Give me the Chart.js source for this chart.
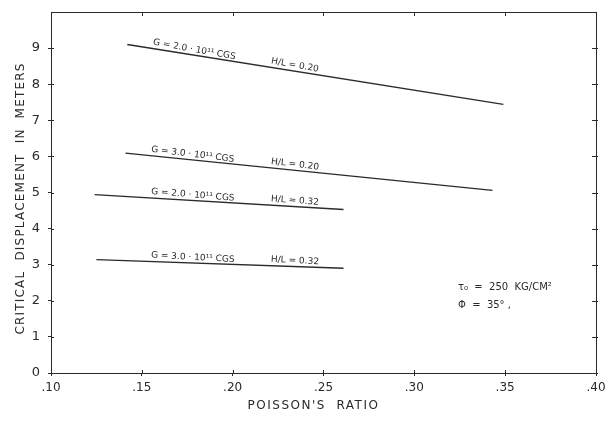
<!DOCTYPE html>
<html>
<head>
<meta charset="utf-8">
<script src="https://cdn.jsdelivr.net/npm/chart.js@4"></script>
<style>
  html, body { margin: 0; padding: 0; background: #fff; }
  #wrap { width: 615px; height: 427px; }
</style>
</head>
<body>
<div id="wrap"><canvas id="myChart" width="615" height="427"></canvas></div>
<script>
// values
const xTicks = [0.10, 0.15, 0.20, 0.25, 0.30, 0.35, 0.40];
const yTicks = [0, 1, 2, 3, 4, 5, 6, 7, 8, 9];

const line1X = [0.142, 0.349];
const line1Y = [9.10, 7.44];
const line2X = [0.141, 0.343];
const line2Y = [6.09, 5.06];
const line3X = [0.124, 0.261];
const line3Y = [4.94, 4.53];
const line4X = [0.125, 0.261];
const line4Y = [3.14, 2.90];

const gLabels = ["G = 2.0 · 10\u00B9\u00B9 CGS", "G = 3.0 · 10\u00B9\u00B9 CGS", "G = 2.0 · 10\u00B9\u00B9 CGS", "G = 3.0 · 10\u00B9\u00B9 CGS"];
const hlLabels = ["H/L = 0.20", "H/L = 0.20", "H/L = 0.32", "H/L = 0.32"];
const gLabelX = [0.156, 0.155, 0.155, 0.155];
const hlLabelX = [0.221, 0.221, 0.221, 0.221];

const noteLines = ["\u03C4\u2080  =  250  KG/CM\u00B2", "\u03A6  =  35\u00B0 ,"];
const noteX = 0.324;
const noteY = [2.42, 1.92];

const xTitle = "POISSON'S  RATIO";
const yTitle = "CRITICAL  DISPLACEMENT  IN  METERS";

const lineXs = [line1X, line2X, line3X, line4X];
const lineYs = [line1Y, line2Y, line3Y, line4Y];

const ink = "#2a2a2a";
const font = "'DejaVu Sans', sans-serif";

function toPoints(xs, ys) {
  return xs.map((x, i) => ({ x: x, y: ys[i] }));
}

// frame ticks, axis titles and the text along the lines
const notesPlugin = {
  id: "notes",
  afterDraw(chart) {
    const ctx = chart.ctx;
    const xs = chart.scales.x;
    const ys = chart.scales.y;
    const area = chart.chartArea;
    ctx.save();
    ctx.strokeStyle = ink;
    ctx.lineWidth = 1;
    // top border + right border
    ctx.beginPath();
    ctx.moveTo(area.left, area.top + 0.5);
    ctx.lineTo(area.right + 0.5, area.top + 0.5);
    ctx.lineTo(area.right + 0.5, area.bottom);
    ctx.stroke();
    xTicks.forEach(v => {
      const px = Math.round(xs.getPixelForValue(v)) + 0.5;
      ctx.beginPath();
      ctx.moveTo(px, area.top);
      ctx.lineTo(px, area.top + 4);
      ctx.moveTo(px, area.bottom);
      ctx.lineTo(px, area.bottom - 3);
      ctx.stroke();
    });
    yTicks.forEach(v => {
      const py = Math.round(ys.getPixelForValue(v)) + 0.5;
      ctx.beginPath();
      ctx.moveTo(area.right - 4, py);
      ctx.lineTo(area.right + 2, py);
      ctx.moveTo(area.left, py);
      ctx.lineTo(area.left + 3, py);
      ctx.stroke();
    });

    ctx.fillStyle = ink;
    ctx.font = "9px " + font;
    ctx.textBaseline = "alphabetic";
    ctx.textAlign = "left";
    lineXs.forEach((lx, i) => {
      const ly = lineYs[i];
      const slope = (ly[1] - ly[0]) / (lx[1] - lx[0]);
      const p0x = xs.getPixelForValue(lx[0]), p0y = ys.getPixelForValue(ly[0]);
      const p1x = xs.getPixelForValue(lx[1]), p1y = ys.getPixelForValue(ly[1]);
      const ang = Math.atan2(p1y - p0y, p1x - p0x) + 0.02;
      [[gLabelX[i], gLabels[i]], [hlLabelX[i], hlLabels[i]]].forEach(([vx, txt]) => {
        const vy = ly[0] + slope * (vx - lx[0]);
        ctx.save();
        ctx.translate(xs.getPixelForValue(vx), ys.getPixelForValue(vy) - 4);
        ctx.rotate(ang);
        ctx.fillText(txt, 0, 0);
        ctx.restore();
      });
    });

    ctx.font = "10px " + font;
    noteLines.forEach((t, i) => {
      ctx.fillText(t, xs.getPixelForValue(noteX), ys.getPixelForValue(noteY[i]) + 4);
    });

    // axis titles, letter spaced like the lettering guide
    ctx.font = "12px " + font;
    ctx.textAlign = "center";
    ctx.textBaseline = "middle";
    ctx.letterSpacing = "1.5px";
    ctx.fillText(xTitle, (area.left + area.right) / 2 - 10, 406);
    ctx.save();
    ctx.translate(21, (area.top + area.bottom) / 2 + 6);
    ctx.rotate(-Math.PI / 2);
    ctx.letterSpacing = "1.2px";
    ctx.fillText(yTitle, 0, 0);
    ctx.restore();
    ctx.restore();
  }
};

const datasets = lineXs.map((lx, i) => ({
  data: toPoints(lx, lineYs[i]),
  borderColor: ink,
  borderWidth: 1.4,
  pointRadius: 0,
  fill: false,
  tension: 0
}));

new Chart(document.getElementById("myChart").getContext("2d"), {
  type: "line",
  data: { datasets: datasets },
  options: {
    responsive: false,
    animation: false,
    layout: { padding: { top: 12, right: 19, left: 0, bottom: 0 } },
    plugins: { legend: { display: false }, tooltip: { enabled: false } },
    scales: {
      x: {
        type: "linear",
        min: 0.10,
        max: 0.40,
        afterFit: s => { s.height = 54; },
        afterBuildTicks: s => { s.ticks = xTicks.map(v => ({ value: v })); },
        ticks: {
          color: ink,
          font: { family: font, size: 12 },
          padding: 5,
          maxRotation: 0,
          callback: v => v.toFixed(2).replace("0.", ".")
        },
        grid: { drawOnChartArea: false, color: ink, tickLength: 3 },
        border: { color: ink, width: 1 }
      },
      y: {
        min: 0,
        max: 10,
        afterFit: s => { s.width = 51; s.paddingTop = 0; s.paddingBottom = 0; },
        afterBuildTicks: s => { s.ticks = yTicks.map(v => ({ value: v })); },
        ticks: {
          color: ink,
          font: { family: font, size: 13 },
          padding: 8
        },
        grid: { drawOnChartArea: false, color: ink, tickLength: 3 },
        border: { color: ink, width: 1 }
      }
    }
  },
  plugins: [notesPlugin]
});
</script>
</body>
</html>
